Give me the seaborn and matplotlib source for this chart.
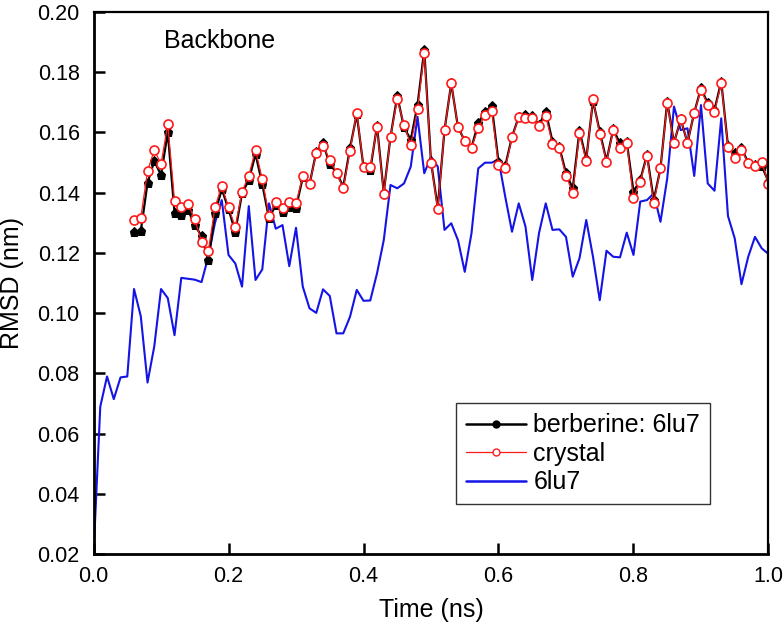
import numpy as np
import pandas as pd
import seaborn as sns
import matplotlib
matplotlib.use("Agg")
import matplotlib.pyplot as plt
from matplotlib.lines import Line2D

# ---- data ----
time_blue = [round(0.01 * i, 2) for i in range(101)]
rmsd_6lu7 = [0.0200, 0.0690, 0.0790, 0.0715, 0.0787, 0.0790, 0.1080, 0.0990, 0.0770, 0.0890,
             0.1080, 0.1050, 0.0927, 0.1117, 0.1114, 0.1111, 0.1103, 0.1187, 0.1300, 0.1375,
             0.1193, 0.1165, 0.1088, 0.1355, 0.1110, 0.1145, 0.1364, 0.1280, 0.1292, 0.1156,
             0.1283, 0.1088, 0.1016, 0.1001, 0.1079, 0.1057, 0.0933, 0.0933, 0.0988, 0.1077,
             0.1041, 0.1042, 0.1132, 0.1242, 0.1425, 0.1414, 0.1430, 0.1486, 0.1651, 0.1464,
             0.1519, 0.1486, 0.1276, 0.1298, 0.1242, 0.1137, 0.1265, 0.1480, 0.1499, 0.1499,
             0.1510, 0.1386, 0.1270, 0.1364, 0.1287, 0.1110, 0.1265, 0.1364, 0.1276, 0.1278,
             0.1253, 0.1121, 0.1182, 0.1309, 0.1187, 0.1043, 0.1207, 0.1187, 0.1185, 0.1267,
             0.1193, 0.1370, 0.1375, 0.1397, 0.1303, 0.1447, 0.1685, 0.1607, 0.1613, 0.1455,
             0.1690, 0.1430, 0.1406, 0.1646, 0.1322, 0.1248, 0.1096, 0.1187, 0.1253, 0.1215,
             0.1196]

time_lig = [round(0.01 * i, 2) for i in range(6, 101)]
rmsd_crystal = [0.1309, 0.1316, 0.1471, 0.1541, 0.1495, 0.1626, 0.1373, 0.1351, 0.1362, 0.1311,
                0.1237, 0.1206, 0.1351, 0.1423, 0.1351, 0.1285, 0.1403, 0.1456, 0.1541, 0.1444,
                0.1322, 0.1369, 0.1348, 0.1369, 0.1364, 0.1455, 0.1428, 0.1530, 0.1554, 0.1508,
                0.1466, 0.1414, 0.1539, 0.1665, 0.1484, 0.1484, 0.1616, 0.1395, 0.1585, 0.1709,
                0.1624, 0.1558, 0.1676, 0.1862, 0.1499, 0.1344, 0.1607, 0.1762, 0.1616, 0.1572,
                0.1549, 0.1613, 0.1657, 0.1671, 0.1491, 0.1480, 0.1583, 0.1649, 0.1646, 0.1646,
                0.1621, 0.1654, 0.1561, 0.1547, 0.1455, 0.1399, 0.1596, 0.1505, 0.1709, 0.1594,
                0.1502, 0.1607, 0.1547, 0.1565, 0.1381, 0.1436, 0.1521, 0.1364, 0.1480, 0.1696,
                0.1565, 0.1643, 0.1565, 0.1665, 0.1741, 0.1690, 0.1668, 0.1762, 0.1552, 0.1513,
                0.1541, 0.1497, 0.1488, 0.1502, 0.1428]
rmsd_berberine = [0.1270, 0.1272, 0.1432, 0.1505, 0.1458, 0.1600, 0.1333, 0.1325, 0.1342, 0.1292,
                  0.1256, 0.1176, 0.1331, 0.1411, 0.1345, 0.1270, 0.1397, 0.1441, 0.1528, 0.1428,
                  0.1314, 0.1359, 0.1336, 0.1353, 0.1350, 0.1450, 0.1427, 0.1535, 0.1563, 0.1494,
                  0.1466, 0.1419, 0.1547, 0.1660, 0.1484, 0.1475, 0.1621, 0.1400, 0.1585, 0.1720,
                  0.1616, 0.1575, 0.1690, 0.1873, 0.1502, 0.1350, 0.1607, 0.1762, 0.1616, 0.1572,
                  0.1549, 0.1630, 0.1668, 0.1687, 0.1502, 0.1488, 0.1585, 0.1651, 0.1657, 0.1654,
                  0.1624, 0.1668, 0.1569, 0.1552, 0.1464, 0.1414, 0.1605, 0.1510, 0.1705, 0.1602,
                  0.1505, 0.1610, 0.1563, 0.1569, 0.1403, 0.1441, 0.1525, 0.1375, 0.1480, 0.1701,
                  0.1565, 0.1643, 0.1565, 0.1665, 0.1746, 0.1696, 0.1674, 0.1768, 0.1554, 0.1530,
                  0.1547, 0.1499, 0.1490, 0.1488, 0.1436]

labels = ["berberine: 6lu7", "crystal", "6lu7"]
x_ticks = [0.0, 0.2, 0.4, 0.6, 0.8, 1.0]
y_ticks = [0.02, 0.04, 0.06, 0.08, 0.10, 0.12, 0.14, 0.16, 0.18, 0.20]

# ---- style ----
sns.set_theme(style="white")
plt.rcParams["font.family"] = ["Liberation Sans", "DejaVu Sans"]
plt.rcParams["text.color"] = "black"
plt.rcParams["axes.labelcolor"] = "black"
plt.rcParams["xtick.color"] = "black"
plt.rcParams["ytick.color"] = "black"

fig = plt.figure(figsize=(7.84, 6.30), dpi=100)
ax = fig.add_axes([0.1193, 0.120, 0.8609, 0.8616])

df_blue = pd.DataFrame({"t": time_blue, "r": rmsd_6lu7})
df_lig = pd.DataFrame({"t": time_lig, "crystal": rmsd_crystal, "berb": rmsd_berberine})

sns.lineplot(data=df_blue, x="t", y="r", ax=ax, color="#1414e6", linewidth=1.5,
             estimator=None, sort=False, legend=False)
sns.lineplot(data=df_lig, x="t", y="berb", ax=ax, color="black", linewidth=1.6,
             marker="p", markersize=6.5, markerfacecolor="black", markeredgecolor="black",
             estimator=None, sort=False, legend=False)
sns.lineplot(data=df_lig, x="t", y="crystal", ax=ax, color="#ff1a1a", linewidth=0.9,
             marker="o", markersize=6.5, markerfacecolor="white", markeredgecolor="#ff1a1a",
             markeredgewidth=1.2, estimator=None, sort=False, legend=False)

ax.set_xlim(0.0, 1.0)
ax.set_ylim(0.02, 0.20)
ax.set_xticks(x_ticks)
ax.set_yticks(y_ticks)
ax.set_xticklabels([f"{v:.1f}" for v in x_ticks])
ax.set_yticklabels([f"{v:.2f}" for v in y_ticks])
ax.tick_params(axis="both", direction="in", length=8, width=1.8, labelsize=15.5,
               labelcolor="black", pad=8, top=False, right=False, bottom=True, left=True)
ax.tick_params(axis="y", pad=10)
for s in ax.spines.values():
    s.set_color("black")
ax.spines["left"].set_linewidth(2.0)
ax.spines["bottom"].set_linewidth(2.0)
ax.spines["top"].set_linewidth(1.6)
ax.spines["right"].set_linewidth(1.6)

ax.set_xlabel("Time (ns)", fontsize=18, labelpad=8, color="black")
ax.set_ylabel("RMSD (nm)", fontsize=18, labelpad=10, color="black")

ax.text(0.105, 0.968, "Backbone", transform=ax.transAxes, fontsize=18,
        ha="left", va="top", color="black")

handles = [
    Line2D([], [], color="black", linewidth=1.8, marker="o", markersize=5,
           markerfacecolor="black"),
    Line2D([], [], color="#ff1a1a", linewidth=0.9, marker="o", markersize=5,
           markerfacecolor="white", markeredgecolor="#ff1a1a"),
    Line2D([], [], color="#1414e6", linewidth=1.8),
]
leg = ax.legend(handles, labels, loc="upper left", bbox_to_anchor=(0.537, 0.278),
                fontsize=18, frameon=True, fancybox=False, framealpha=1,
                edgecolor="#333333", handlelength=2.4, handletextpad=0.3,
                labelspacing=0.18, borderpad=0.4, borderaxespad=0, numpoints=1)
leg.get_frame().set_linewidth(1.0)
for t in leg.get_texts():
    t.set_color("black")

fig.savefig("out.png", dpi=100)
